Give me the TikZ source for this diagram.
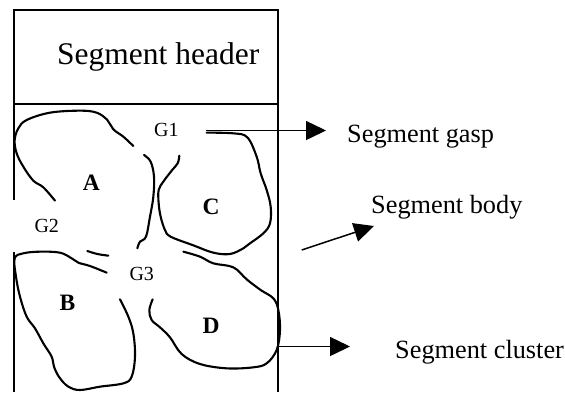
\documentclass[tikz,border=0pt]{standalone}
\usepackage{fontspec}
\setmainfont{Liberation Serif}
\usetikzlibrary{arrows.meta}
\begin{document}
\begin{tikzpicture}[x=1pt,y=-1pt,
  border/.style={line width=1.6pt},
  blob/.style={line width=2.1pt,line cap=round,line join=round},
  pointer/.style={line width=1.5pt,-{Triangle[length=20pt,width=19pt]}},
  header/.style={font=\fontsize{31.5}{37}\selectfont,inner sep=0pt,anchor=base west},
  label/.style={font=\fontsize{26.3}{31}\selectfont,inner sep=0pt,anchor=base west},
  gap/.style={font=\fontsize{20}{23}\selectfont,inner sep=0pt,anchor=base west},
  part/.style={font=\fontsize{23.5}{27}\bfseries\selectfont,inner sep=0pt,anchor=base west}]
\useasboundingbox (0,0) rectangle (565,392);
% frame
\coordinate (tl) at (14,10);
\coordinate (tr) at (278,10);
\coordinate (hl) at (14,104);
\coordinate (hr) at (278,104);
\coordinate (gapT) at (14,200);
\coordinate (gapB) at (14,252);
\coordinate (bl) at (14,392);
\coordinate (br) at (278,392);
\draw[border] (gapT) -- (tl) -- (tr) -- (br);
\draw[border] (gapB) -- (bl);
\draw[border] (hl) -- (hr);
% texts
\node[header] (head) at (57,64) {Segment header};
\node[gap] (g1) at (154,136.7) {G1};
\node[gap] (g2) at (34.3,232.7) {G2};
\node[gap] (g3) at (129.3,280.7) {G3};
\node[part] (a) at (82.7,190) {A};
\node[part] (c) at (202.3,214) {C};
\node[part] (b) at (59.3,310) {B};
\node[part] (d) at (202.3,333.3) {D};
\node[label] (lgasp) at (347,142.7) {Segment gasp};
\node[label] (lbody) at (371,213.3) {Segment body};
\node[label] (lclus) at (395,358.3) {Segment cluster};
% blobs
\begin{scope}[shift={(0,90)},scale=0.33333]
% A outer
\draw[blob] plot[smooth,tension=0.6] coordinates {(400,168) (370,140) (340,118) (322,90) (290,68) (240,62) (150,68) (80,90) (55,115) (44,150) (50,190) (70,230) (100,272) (130,292) (165,332)};
% A right
\draw[blob] plot[smooth,tension=0.6] coordinates {(432,195) (452,215) (462,260) (460,320) (450,380) (438,440) (420,455) (412,475)};
% A bottom dash
\draw[blob] plot[smooth,tension=0.6] coordinates {(262,483) (292,492) (325,497)};
% B
\draw[blob] plot[smooth,tension=0.6] coordinates {(320,548) (270,528) (235,518) (215,505) (180,488) (120,485) (70,490) (44,505) (48,560) (60,620) (80,680) (105,715) (130,760) (155,800) (162,830) (178,862) (205,890) (240,900) (300,890) (370,880) (395,860) (405,800) (400,730) (385,680) (360,628)};
% C
\draw[blob] plot[smooth,tension=0.6] coordinates {(620,128) (700,130) (742,142) (770,200) (782,250) (800,300) (812,350) (810,400) (790,430) (750,460) (730,475) (690,492) (640,488) (580,466) (512,440) (495,420) (482,380) (476,340) (476,300) (490,275) (515,242) (533,220) (538,197)};
% D
\draw[blob] plot[smooth,tension=0.6] coordinates {(550,485) (600,500) (640,520) (700,532) (740,568) (782,600) (820,625) (835,660) (840,720) (830,780) (800,820) (760,832) (680,835) (600,822) (545,792) (510,742) (480,712) (455,690) (448,660) (458,628)};
\end{scope}
% pointers
\coordinate (gaspS) at (206,130.5);
\coordinate (gaspE) at (326,130.5);
\coordinate (bodyS) at (301.7,250);
\coordinate (bodyE) at (374,226);
\coordinate (clusS) at (278,346.5);
\coordinate (clusE) at (350,346.5);
\draw[pointer] (gaspS) -- (gaspE);
\draw[pointer] (bodyS) -- (bodyE);
\draw[pointer] (clusS) -- (clusE);
\end{tikzpicture}
\end{document}
